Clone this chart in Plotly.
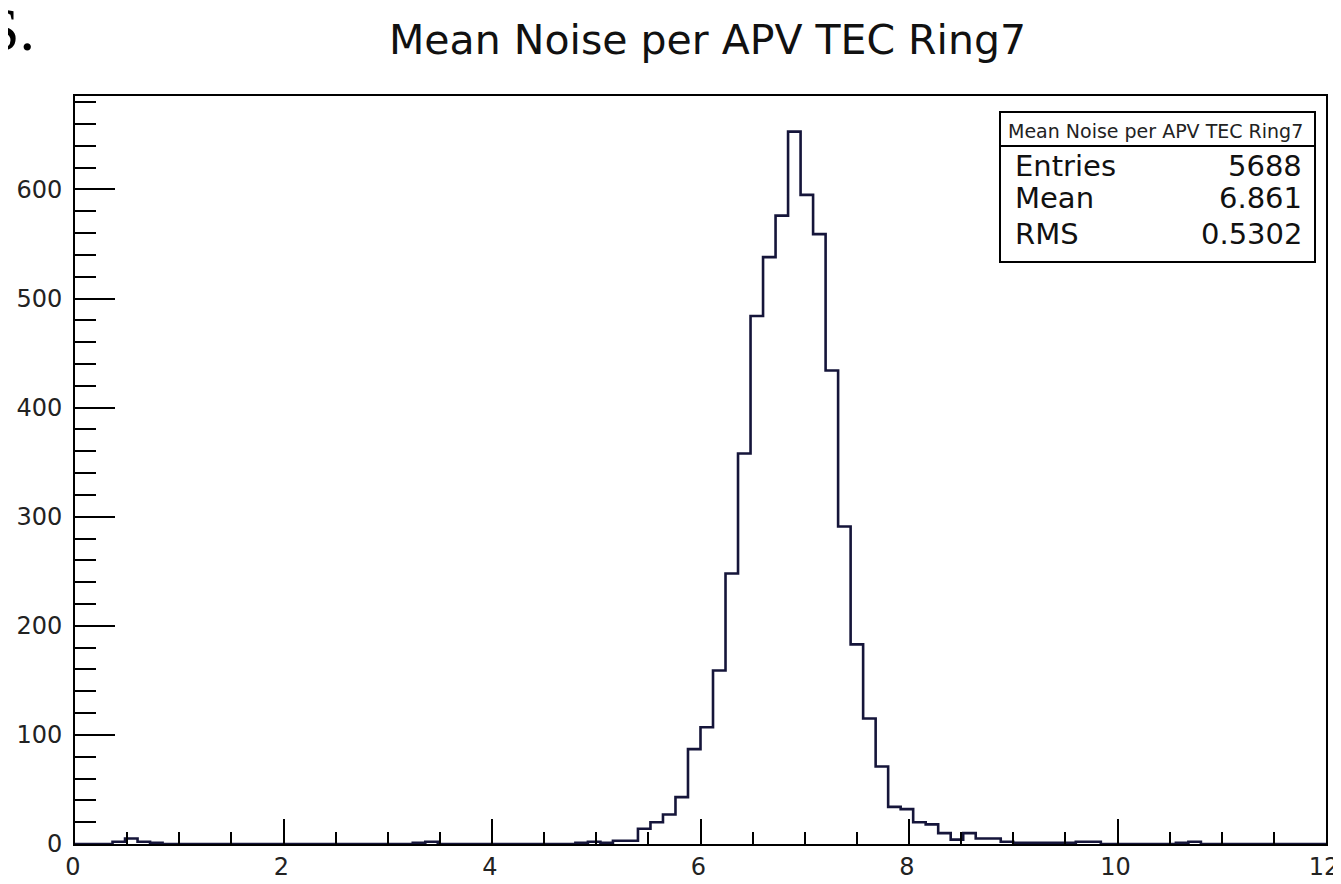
import numpy as np
import plotly.graph_objects as go

# ---------------- data ----------------
title_text = "Mean Noise per APV TEC Ring7"
x_min, x_max, n_bins = 0.0, 12.0, 100
counts = [
    0, 0, 0, 2, 5, 2, 1, 0, 0, 0,        # 0.00 - 1.20
    0, 0, 0, 0, 0, 0, 0, 0, 0, 0,        # 1.20 - 2.40
    0, 0, 0, 0, 0, 0, 0, 1, 2, 0,        # 2.40 - 3.60
    0, 0, 0, 0, 0, 0, 0, 0, 0, 0,        # 3.60 - 4.80
    1, 2, 1, 3, 3, 14, 20, 27, 43, 87,   # 4.80 - 6.00
    107, 159, 248, 358, 484, 538, 576, 653, 595, 559,  # 6.00 - 7.20
    434, 291, 183, 115, 71, 34, 32, 20, 18, 10,        # 7.20 - 8.40
    4, 10, 5, 5, 2, 1, 1, 1, 1, 1,       # 8.40 - 9.60
    2, 2, 0, 0, 0, 0, 0, 0, 1, 2,        # 9.60 - 10.80
    0, 0, 0, 0, 0, 0, 0, 0, 0, 0,        # 10.80 - 12.00
]
stat_labels = ["Entries", "Mean", "RMS"]
stat_values = ["5688", "6.861", "0.5302"]
x_tick_vals = [0, 2, 4, 6, 8, 10, 12]
y_tick_vals = [0, 100, 200, 300, 400, 500, 600]

# ---------------- geometry helpers ----------------
# The page body has an 8 px margin, so the figure is drawn 8 px in from the
# window's corner; the figure is made 8 px larger to still fill the window.
OFF = 8
W, H = 1341 + OFF, 884 + OFF
L, R, T, B = 75, 1326, 96, 844   # plot frame in window pixels


def px(xp):
    return (xp - L) / (R - L)


def py(yp):
    return (B - yp) / (B - T)


edges = np.linspace(x_min, x_max, n_bins + 1)
step_x = list(edges)
step_y = list(counts) + [counts[-1]]
y_top = 1.05 * max(counts)

fig = go.Figure()
fig.add_trace(go.Scatter(
    x=step_x, y=step_y, mode="lines", line_shape="hv",
    line=dict(color="#15153a", width=2.6), hoverinfo="skip", showlegend=False,
))

tick_font = dict(family="DejaVu Sans", size=24, color="#222222")
fig.update_xaxes(
    range=[x_min, x_max], showgrid=False, zeroline=False, automargin=False,
    showline=True, mirror=True, linecolor="black", linewidth=2,
    ticks="inside", ticklen=25, tickwidth=2, tickcolor="black",
    tickvals=x_tick_vals, ticktext=[str(v) for v in x_tick_vals],
    tickfont=tick_font, ticklabeloverflow="allow", ticklabelshift=-2,
    minor=dict(dtick=0.5, ticks="inside", ticklen=12, tickwidth=2, tickcolor="black"),
)
fig.update_yaxes(
    range=[0, y_top], showgrid=False, zeroline=False, automargin=False,
    showline=True, mirror=True, linecolor="black", linewidth=2,
    ticks="inside", ticklen=40, tickwidth=2, tickcolor="black",
    tickvals=y_tick_vals, ticktext=[str(v) for v in y_tick_vals],
    tickfont=tick_font, ticklabelstandoff=6,
    minor=dict(dtick=20, ticks="inside", ticklen=21, tickwidth=2, tickcolor="black"),
)

shapes = [
    dict(type="rect", xref="paper", yref="paper",
         x0=px(1000), x1=px(1315), y0=py(262), y1=py(112),
         line=dict(color="black", width=2), fillcolor="white", layer="above"),
    dict(type="line", xref="paper", yref="paper",
         x0=px(1000), x1=px(1315), y0=py(146), y1=py(146),
         line=dict(color="black", width=2), layer="above"),
]

annotations = [
    dict(text=title_text, xref="paper", yref="paper", x=px(707), y=py(40),
         xanchor="center", yanchor="middle", showarrow=False,
         font=dict(family="DejaVu Sans", size=41, color="#111111")),
    dict(text="S.", xref="paper", yref="paper", x=px(37), y=py(29),
         xanchor="right", yanchor="middle", showarrow=False,
         font=dict(family="Liberation Serif", size=62, color="black")),
    dict(text=title_text, xref="paper", yref="paper", x=px(1155), y=py(131),
         xanchor="center", yanchor="middle", showarrow=False,
         font=dict(family="DejaVu Sans", size=19, color="#222222")),
]
row_y = [166, 198, 234]
for lab, val, ry in zip(stat_labels, stat_values, row_y):
    annotations.append(dict(text=lab, xref="paper", yref="paper", x=px(1013), y=py(ry),
                            xanchor="left", yanchor="middle", showarrow=False,
                            font=dict(family="DejaVu Sans", size=29, color="#111111")))
    annotations.append(dict(text=val, xref="paper", yref="paper", x=px(1304), y=py(ry),
                            xanchor="right", yanchor="middle", showarrow=False,
                            font=dict(family="DejaVu Sans", size=29, color="#111111")))

fig.update_layout(
    width=W, height=H, autosize=False,
    margin=dict(l=L - OFF, r=W - (R - OFF), t=T - OFF, b=H - (B - OFF), pad=0),
    paper_bgcolor="white", plot_bgcolor="white",
    shapes=shapes, annotations=annotations, showlegend=False,
)

fig.write_html("out.html")
